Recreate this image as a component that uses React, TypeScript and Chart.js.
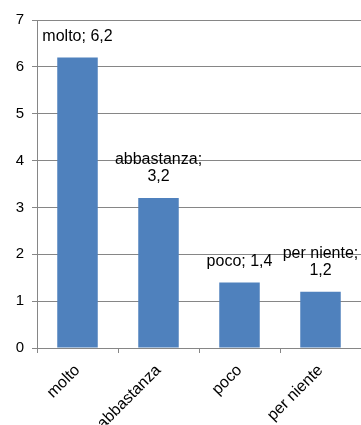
import React, { useEffect, useRef } from "react";
import { Chart, registerables } from "chart.js";

Chart.register(...registerables);

// Survey answers and their average scores
const categories = ["molto", "abbastanza", "poco", "per niente"];
const values = [6.2, 3.2, 1.4, 1.2];
const yTicks = [0, 1, 2, 3, 4, 5, 6, 7];

const FONT_FAMILY = "'Liberation Sans', Arial, sans-serif";
const BAR_COLOR = "#4F81BD";
const AXIS_COLOR = "#868686";

const formatValue = (v: number) => v.toFixed(1).replace(".", ",");

// Draws "category; value" above each bar, wrapping after the semicolon when too wide
const barLabelPlugin = {
  id: "barLabels",
  afterDatasetsDraw(chart: any) {
    const { ctx } = chart;
    const meta = chart.getDatasetMeta(0);
    const maxWidth = 80;
    const lineHeight = 17.5;
    ctx.save();
    ctx.font = `16px ${FONT_FAMILY}`;
    ctx.fillStyle = "#000";
    ctx.textAlign = "center";
    ctx.textBaseline = "middle";
    meta.data.forEach((bar: any, i: number) => {
      const full = `${categories[i]}; ${formatValue(values[i])}`;
      const lines =
        ctx.measureText(full).width > maxWidth
          ? [`${categories[i]};`, formatValue(values[i])]
          : [full];
      const lastY = bar.y - 21;
      lines.forEach((line: string, k: number) => {
        const y = lastY - (lines.length - 1 - k) * lineHeight;
        ctx.fillText(line, bar.x, y);
      });
    });
    ctx.restore();
  },
};

export default function App() {
  const canvasRef = useRef<HTMLCanvasElement | null>(null);

  useEffect(() => {
    const canvas = canvasRef.current;
    if (!canvas) return;
    const chart = new Chart(canvas, {
      type: "bar",
      data: {
        labels: categories,
        datasets: [
          {
            data: values,
            backgroundColor: BAR_COLOR,
            borderWidth: 0,
            categoryPercentage: 1,
            barPercentage: 0.5,
          },
        ],
      },
      options: {
        responsive: false,
        animation: false,
        events: [],
        layout: { padding: { top: 20, right: 0, left: 0, bottom: 0 } },
        plugins: {
          legend: { display: false },
          tooltip: { enabled: false },
        },
        scales: {
          x: {
            offset: true,
            grid: {
              display: true,
              offset: true,
              drawOnChartArea: false,
              drawTicks: true,
              tickLength: 5,
              color: AXIS_COLOR,
            },
            border: { display: true, color: AXIS_COLOR, width: 1 },
            ticks: {
              color: "#000",
              font: { family: FONT_FAMILY, size: 16 },
              minRotation: 45,
              maxRotation: 45,
              padding: 8,
              autoSkip: false,
            },
            afterFit(scale: any) {
              scale.height = 77;
            },
          },
          y: {
            min: 0,
            max: 7,
            afterBuildTicks(scale: any) {
              scale.ticks = yTicks.map((v) => ({ value: v }));
            },
            grid: {
              color: AXIS_COLOR,
              lineWidth: 1,
              drawTicks: true,
              tickLength: 5,
            },
            border: { display: true, color: AXIS_COLOR, width: 1 },
            ticks: {
              color: "#000",
              font: { family: FONT_FAMILY, size: 15 },
              padding: 8,
              callback: (v: any) => String(v),
            },
            afterFit(scale: any) {
              scale.width = 37;
            },
          },
        },
      },
      plugins: [barLabelPlugin],
    });
    return () => chart.destroy();
  }, []);

  return (
    <div style={{ position: "absolute", left: 0, top: 0, width: 361, height: 425, background: "#fff" }}>
      <canvas ref={canvasRef} width={361} height={425} />
    </div>
  );
}
